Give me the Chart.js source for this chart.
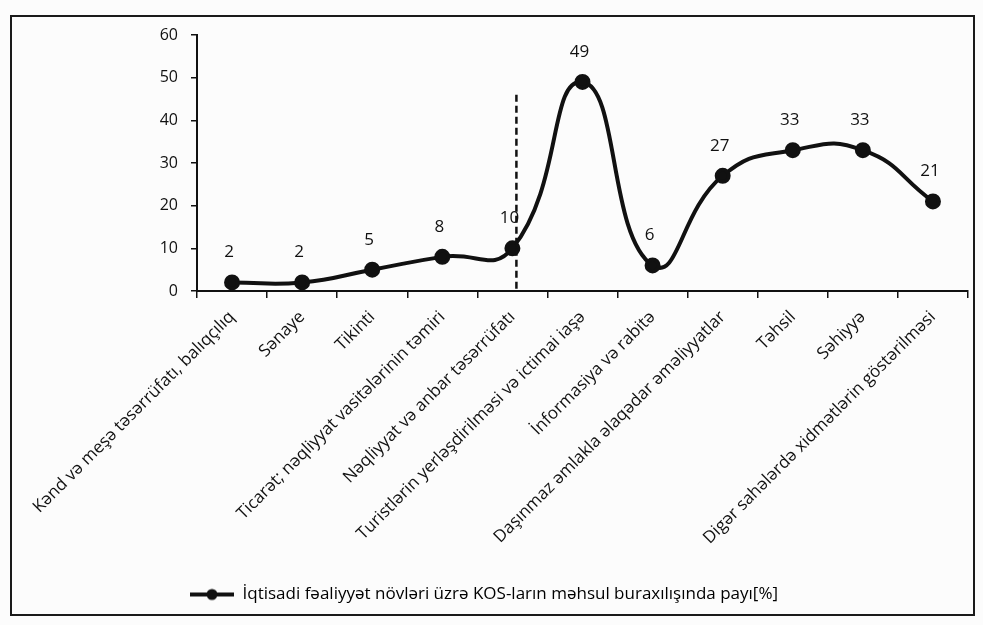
<!DOCTYPE html>
<html>
<head>
<meta charset="utf-8">
<script src="https://cdn.jsdelivr.net/npm/chart.js@4.4.1/dist/chart.umd.min.js"></script>
<style>
  body { margin: 0; background: #fcfcfc; }
  #wrap { position: relative; width: 983px; height: 625px; }
  #frame { position: absolute; left: 10px; top: 15px; width: 965px; height: 601px; border: 2px solid #1a1a1a; box-sizing: border-box; pointer-events: none; }
</style>
</head>
<body>
<div id="wrap">
  <canvas id="chart"></canvas>
  <div id="frame"></div>
</div>
<script>
const categories = [
  "Kənd və meşə təsərrüfatı, balıqçılıq",
  "Sənaye",
  "Tikinti",
  "Ticarət; nəqliyyat vasitələrinin təmiri",
  "Nəqliyyat və anbar təsərrüfatı",
  "Turistlərin yerləşdirilməsi və ictimai iaşə",
  "İnformasiya və rabitə",
  "Daşınmaz əmlakla əlaqədar əməliyyatlar",
  "Təhsil",
  "Səhiyyə",
  "Digər sahələrdə xidmətlərin göstərilməsi"
];
const shares = [2, 2, 5, 8, 10, 49, 6, 27, 33, 33, 21];
const seriesName = "İqtisadi fəaliyyət növləri üzrə KOS-ların məhsul buraxılışında payı[%]";
const yMin = 0, yMax = 60, yStep = 10;
// dashed divider after "Nəqliyyat və anbar təsərrüfatı"
const dividerIndex = 4;
const dividerTop = 46;

const FONT = "'Open Sans', 'DejaVu Sans', sans-serif";
const INK = "#111";

// legend icon: line with a dot in the middle, like the Excel marker line
const legendIcon = document.createElement("canvas");
legendIcon.width = 44;
legendIcon.height = 14;
(() => {
  const c = legendIcon.getContext("2d");
  c.strokeStyle = INK;
  c.lineWidth = 4;
  c.beginPath();
  c.moveTo(0, 7);
  c.lineTo(44, 7);
  c.stroke();
  c.fillStyle = INK;
  c.beginPath();
  c.arc(22, 7, 5.5, 0, Math.PI * 2);
  c.fill();
})();

const valueLabels = {
  id: "valueLabels",
  afterDatasetsDraw(chart) {
    const ctx = chart.ctx;
    const meta = chart.getDatasetMeta(0);
    ctx.save();
    ctx.font = "17px " + FONT;
    ctx.fillStyle = INK;
    ctx.textAlign = "center";
    ctx.textBaseline = "middle";
    meta.data.forEach((pt, i) => {
      ctx.fillText(String(shares[i]), pt.x - 3, pt.y - 30);
    });
    ctx.restore();
  }
};

const divider = {
  id: "divider",
  afterDatasetsDraw(chart) {
    const { ctx, scales } = chart;
    const x = scales.x.getPixelForValue(dividerIndex) + 4;
    ctx.save();
    ctx.strokeStyle = INK;
    ctx.lineWidth = 2.5;
    ctx.setLineDash([7, 4]);
    ctx.beginPath();
    ctx.moveTo(x, scales.y.getPixelForValue(dividerTop));
    ctx.lineTo(x, scales.y.getPixelForValue(yMin));
    ctx.stroke();
    ctx.restore();
  }
};

new Chart(document.getElementById("chart"), {
  type: "line",
  data: {
    labels: categories,
    datasets: [{
      label: seriesName,
      data: shares,
      borderColor: INK,
      backgroundColor: INK,
      borderWidth: 4,
      pointRadius: 6,
      pointHoverRadius: 6,
      pointBackgroundColor: INK,
      pointBorderColor: INK,
      tension: 0.5,
      fill: false
    }]
  },
  options: {
    responsive: true,
    maintainAspectRatio: false,
    animation: false,
    layout: { padding: { left: 0, right: 15, top: 35, bottom: 12 } },
    scales: {
      x: {
        offset: true,
        grid: { offset: true, drawOnChartArea: false, color: INK, lineWidth: 1.5, tickLength: 7 },
        border: { color: INK, width: 2 },
        ticks: {
          autoSkip: false,
          minRotation: 45,
          maxRotation: 45,
          color: INK,
          padding: 9,
          font: { family: FONT, size: 17 }
        },
        afterFit(scale) { scale.height = 285; }
      },
      y: {
        min: yMin,
        max: yMax,
        ticks: {
          stepSize: yStep,
          color: INK,
          padding: 13,
          font: { family: FONT, size: 16 }
        },
        grid: { drawOnChartArea: false, color: INK, lineWidth: 1.5, tickLength: 6 },
        border: { color: INK, width: 2 },
        afterFit(scale) { scale.width = 197; }
      }
    },
    plugins: {
      tooltip: { enabled: false },
      legend: {
        position: "bottom",
        labels: {
          usePointStyle: true,
          pointStyleWidth: 44,
          color: INK,
          font: { family: FONT, size: 17 },
          padding: 10,
          generateLabels: () => [{
            text: seriesName,
            pointStyle: legendIcon,
            fillStyle: INK,
            strokeStyle: INK,
            lineWidth: 0,
            hidden: false,
            datasetIndex: 0
          }]
        }
      }
    }
  },
  plugins: [valueLabels, divider]
});
</script>
</body>
</html>
